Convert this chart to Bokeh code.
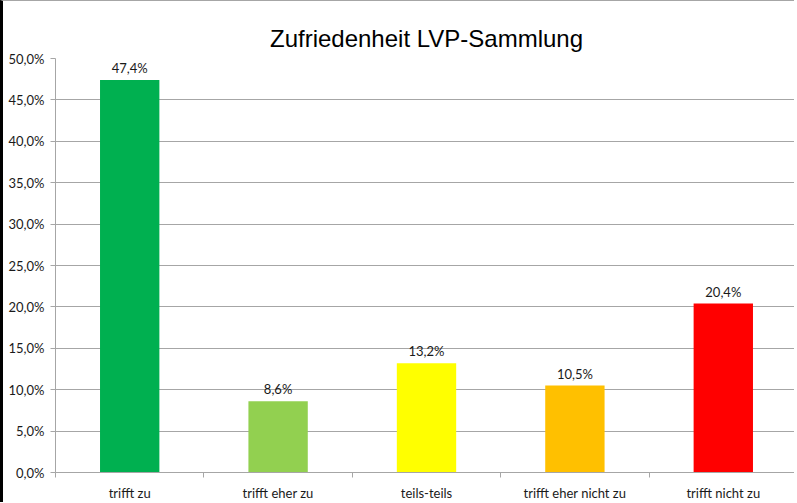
from bokeh.plotting import figure
from bokeh.models import Range1d, FixedTicker, ColumnDataSource
from bokeh.core.properties import value
from bokeh.embed import file_html
from bokeh.resources import INLINE

title_text = "Zufriedenheit LVP-Sammlung"
categories = ["trifft zu", "trifft eher zu", "teils-teils", "trifft eher nicht zu", "trifft nicht zu"]
percentages = [47.4, 8.6, 13.2, 10.5, 20.4]
value_labels = ["47,4%", "8,6%", "13,2%", "10,5%", "20,4%"]
bar_colors = ["#00B050", "#92D050", "#FFFF00", "#FFC000", "#FF0000"]
y_ticks = [0, 5, 10, 15, 20, 25, 30, 35, 40, 45, 50]
y_tick_labels = ["0,0%", "5,0%", "10,0%", "15,0%", "20,0%", "25,0%", "30,0%", "35,0%", "40,0%", "45,0%", "50,0%"]

xs = [i + 0.5 for i in range(len(categories))]
src = ColumnDataSource(dict(x=xs, top=percentages, color=bar_colors, label=value_labels))

p = figure(width=794, height=502, output_backend="svg", toolbar_location=None,
           x_range=Range1d(0, len(categories)), y_range=Range1d(0, 50),
           min_border_left=52, min_border_right=0, min_border_bottom=29, min_border_top=57)
p.styles = {"border-left": "3px solid #000000", "border-top": "1px solid #A6A6A6"}

p.title.text = title_text
p.title.align = "center"
p.title.vertical_align = "top"
p.title.text_line_height = 0.6
p.title.text_font = "Liberation Sans"
p.title.text_font_size = "24px"
p.title.text_font_style = "normal"
p.title.text_color = "#000000"
p.title.standoff = 10

p.outline_line_color = None
p.background_fill_color = "white"
p.border_fill_color = "white"

lab_font = "Lato"
lab_size = "13px"
lab_color = "#1a1a1a"

p.vbar(x="x", top="top", width=0.4, bottom=0, color="color", line_color=None, source=src)
p.text(x="x", y="top", text="label", source=src, text_align="center", text_baseline="bottom",
       y_offset=-4, text_font=value(lab_font), text_font_size=lab_size, text_color=lab_color)

grid_col = "#A6A6A6"
p.xgrid.grid_line_color = None
p.ygrid.grid_line_color = grid_col
p.ygrid.ticker = FixedTicker(ticks=y_ticks)

p.yaxis.ticker = FixedTicker(ticks=y_ticks)
p.yaxis.major_label_overrides = {t: l for t, l in zip(y_ticks, y_tick_labels)}
p.yaxis.axis_line_color = grid_col
p.yaxis.major_tick_line_color = grid_col
p.yaxis.major_tick_out = 5
p.yaxis.major_tick_in = 0
p.yaxis.minor_tick_line_color = None
p.yaxis.major_label_text_font = lab_font
p.yaxis.major_label_text_font_size = lab_size
p.yaxis.major_label_text_color = lab_color
p.yaxis.major_label_standoff = 6

p.xaxis.ticker = FixedTicker(ticks=xs, minor_ticks=list(range(len(categories) + 1)))
p.xaxis.major_label_overrides = {x: c for x, c in zip(xs, categories)}
p.xaxis.axis_line_color = grid_col
p.xaxis.major_tick_line_color = None
p.xaxis.minor_tick_line_color = grid_col
p.xaxis.minor_tick_out = 5
p.xaxis.minor_tick_in = 0
p.xaxis.major_label_text_font = lab_font
p.xaxis.major_label_text_font_size = lab_size
p.xaxis.major_label_text_color = lab_color
p.xaxis.major_label_standoff = 6

open("out.html", "w").write(file_html(p, INLINE))
